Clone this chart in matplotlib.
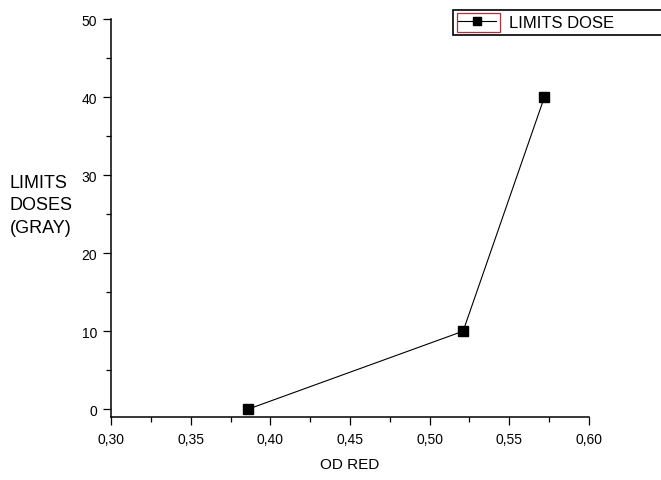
import matplotlib.pyplot as plt
from matplotlib.ticker import MultipleLocator, FuncFormatter
from matplotlib.patches import Rectangle

plt.rcParams['font.family'] = ['Liberation Sans', 'DejaVu Sans']

od_red = [0.386, 0.521, 0.572]
limits_dose = [0, 10, 40]

fig = plt.figure(figsize=(6.61, 4.81), dpi=100)
ax = fig.add_axes([0.168, 0.131, 0.723, 0.827])

ax.plot(od_red, limits_dose, color='black', lw=0.8, marker='s', ms=7,
        mfc='black', mec='black', label='LIMITS DOSE', clip_on=False)

ax.set_xlim(0.30, 0.60)
ax.set_ylim(-1, 50)
ax.xaxis.set_major_locator(MultipleLocator(0.05))
ax.xaxis.set_minor_locator(MultipleLocator(0.025))
ax.yaxis.set_major_locator(MultipleLocator(10))
ax.yaxis.set_minor_locator(MultipleLocator(5))
ax.xaxis.set_major_formatter(FuncFormatter(lambda v, p: f"{v:.2f}".replace('.', ',')))
ax.yaxis.set_major_formatter(FuncFormatter(lambda v, p: f"{v:.0f}"))

for s in ['top', 'right']:
    ax.spines[s].set_visible(False)
for s in ['left', 'bottom']:
    ax.spines[s].set_linewidth(1.1)
ax.tick_params(which='major', direction='out', length=6, width=0.9, labelsize=10, color='black')
ax.tick_params(which='minor', direction='out', length=3.5, width=0.9)
ax.tick_params(axis='x', pad=5)
ax.tick_params(axis='y', pad=4)

ax.set_xlabel('OD RED', fontsize=11, labelpad=8)
fig.text(0.015, 0.572, 'LIMITS\nDOSES\n(GRAY)', fontsize=13, ha='left', va='center',
         linespacing=1.42)

leg = fig.legend(loc='upper left', bbox_to_anchor=(0.685, 0.978 - 0.056, 0.34, 0.056),
                 mode='expand', fontsize=12,
                 frameon=True, fancybox=False, edgecolor='black', framealpha=1,
                 handlelength=2.3, borderpad=0.3, handletextpad=0.8,
                 borderaxespad=0, markerscale=0.8)
leg.get_frame().set_linewidth(1.2)

# red box round the legend symbol, drawn above the legend frame
fig.canvas.draw()
lb = leg.get_window_extent()
box = Rectangle((lb.x0 + 4, lb.y0 + 3), 43, lb.height - 6, transform=None,
                fill=False, edgecolor='#b03040', lw=0.9, zorder=10)
fig.add_artist(box)

fig.savefig('out.png', dpi=100)
